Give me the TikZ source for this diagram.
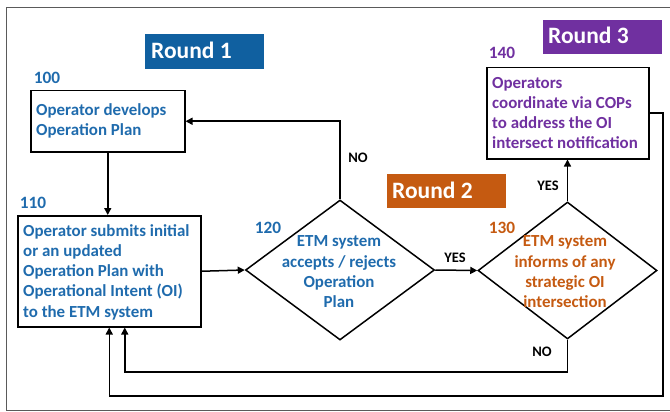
\documentclass[tikz,border=0pt]{standalone}
\usepackage{fontspec}
\setmainfont{Carlito}
\usetikzlibrary{arrows.meta,shapes.geometric}
\definecolor{rblue}{HTML}{1060A0}
\definecolor{tblue}{HTML}{1F6BAD}
\definecolor{rorange}{HTML}{C55A11}
\definecolor{tpurple}{HTML}{7030A0}
\definecolor{framegray}{HTML}{5A5A5A}
\begin{document}
\begin{tikzpicture}[x=1pt,y=-1pt,
  font=\bfseries\fontsize{16.9}{20.3}\selectfont,
  stepbox/.style={draw=black,line width=1.5pt,inner sep=0pt,anchor=north west},
  body/.style={align=left,inner sep=0pt,anchor=west},
  dia/.style={draw=black,line width=1.5pt,diamond,inner sep=0pt},
  dtext/.style={align=center,inner sep=0pt},
  tag/.style={inner sep=0pt,anchor=base,font=\bfseries\fontsize{17.3}{18}\selectfont},
  roundbox/.style={inner sep=0pt,anchor=base west,text=white,
    font=\bfseries\fontsize{23.5}{25}\selectfont},
  yn/.style={inner sep=0pt,font=\bfseries\fontsize{14.5}{15}\selectfont},
  arr/.style={line width=1.5pt,-{Triangle[length=7pt,width=7pt]}}]
\useasboundingbox (0,0) rectangle (670,412);
% frame, open on the right
\draw[framegray,line width=1.8pt] (672,7.5) -- (6.5,7.5) -- (6.5,410.5) -- (672,410.5);

% round banners
\fill[rblue] (145,34) rectangle (264,69);
\node[roundbox] (r1) at (151,59) {Round 1};
\fill[rorange] (387,174) rectangle (506,208);
\node[roundbox] (r2) at (392,198.5) {Round 2};
\fill[tpurple] (543,20) rectangle (662,54);
\node[roundbox] (r3) at (548,44) {Round 3};

% step 100
\node[stepbox,minimum width=154pt,minimum height=61pt] (b100) at (30,90) {};
\node[body,text=tblue] (t100) at (36,121) {Operator develops\\Operation Plan};
\node[tag,text=tblue] (n100) at (47,83.5) {100};

% step 110
\node[stepbox,minimum width=183pt,minimum height=111pt] (b110) at (17,215) {};
\node[body,text=tblue] (t110) at (23,272) {Operator submits initial\\or an updated\\Operation Plan with\\Operational Intent (OI)\\to the ETM system};
\node[tag,text=tblue] (n110) at (33,208.5) {110};

% step 120
\node[dia,minimum width=189pt,minimum height=140pt] (d120) at (340,270) {};
\node[dtext,text=tblue] (t120) at (339,272) {ETM system\\accepts / rejects\\Operation\\Plan};
\node[tag,text=tblue] (n120) at (268,233.5) {120};

% step 130
\node[dia,minimum width=179pt,minimum height=137pt] (d130) at (567.5,270.5) {};
\node[dtext,text=rorange] (t130) at (565,272) {ETM system\\informs of any\\strategic OI\\intersection};
\node[tag,text=rorange] (n130) at (502,233.5) {130};

% step 140
\node[stepbox,minimum width=162pt,minimum height=91pt] (b140) at (486,67) {};
\node[body,text=tpurple] (t140) at (492,113) {Operators\\coordinate via COPs\\to address the OI\\intersect notification};
\node[tag,text=tpurple] (n140) at (502,58.5) {140};

% connectors
\coordinate (r140) at (663,396);
\coordinate (r130) at (567.5,372);
\draw[arr] (b100) -- (b100 |- b110.north);
\draw[arr] (b110.east) -- (d120.west);
\draw[arr] (d120.north) |- (b100.east);
\draw[arr] (d120.east) -- (d130.west);
\draw[arr] (d130.north) -- (d130 |- b140.south);
\draw[arr] (d130.south) -- (r130) -| ([xshift=15.5pt]b110.south);
\draw[arr] (b140.east) -| (r140) -| (b110.south);

% branch labels
\node[yn] (no1) at (358,158) {NO};
\node[yn] (yes1) at (455,258) {YES};
\node[yn] (yes2) at (548,186) {YES};
\node[yn] (no2) at (542,352) {NO};
\end{tikzpicture}
\end{document}
